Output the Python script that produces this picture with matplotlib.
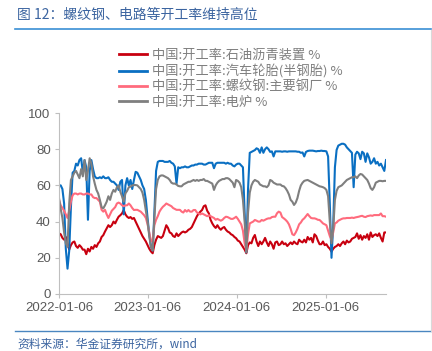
import matplotlib
matplotlib.use("Agg")
import matplotlib.pyplot as plt
from matplotlib.lines import Line2D
import pandas as pd

plt.rcParams['font.family'] = ['Noto Sans CJK SC', 'DejaVu Sans']

start_date = '2022-01-06'
n_weeks = 193

label_asphalt = '中国:开工率:石油沥青装置 %'
label_tire = '中国:开工率:汽车轮胎(半钢胎) %'
label_rebar = '中国:开工率:螺纹钢:主要钢厂 %'
label_eaf = '中国:开工率:电炉 %'

asphalt = [
    33.5, 33, 31, 30, 31.5, 28, 24.5, 27, 28.5, 29,
    26.5, 25.5, 27, 26, 24.5, 24.5, 22, 25, 23.5, 26,
    25, 27, 26, 28, 29, 31.5, 32.5, 34.5, 36.3, 38,
    37, 38, 40, 39, 41, 42.7, 43.5, 44.5, 46.4, 44,
    42.7, 42, 42.5, 41.5, 42, 40, 38, 36, 34, 32,
    30.5, 29, 27, 25, 23.5, 22.5, 27, 30, 32, 31.5,
    31, 32, 35, 38, 36.5, 34, 33.5, 32, 31.5, 33.5,
    32, 33, 34, 34.5, 34, 34.5, 35.5, 36, 37, 39,
    41, 43, 44.5, 45.5, 46.4, 48.5, 49, 46, 44.5, 41,
    39, 37.5, 36.5, 38, 36.5, 35.5, 36.5, 37, 35.5, 34.5,
    34, 33, 32.5, 31.5, 30.8, 29.5, 29, 27.5, 26, 24.5,
    22.5, 27, 28.5, 28, 31, 32.6, 29, 26.5, 29, 27.5,
    29, 31, 28.5, 26.5, 29, 27.5, 25, 28.5, 29, 27,
    27.5, 29, 27.5, 28, 26.5, 27.5, 28.5, 27.5, 29, 28,
    27.5, 30, 29, 28.5, 30, 28.5, 31.5, 30, 31, 28.5,
    33, 32, 29.5, 27.5, 27.5, 29, 27, 27.5, 26, 25,
    23.4, 25, 26, 26.5, 27.5, 26.5, 28, 29, 27.5, 29.5,
    28.5, 29, 30.5, 31, 31.5, 33.5, 30.5, 32.5, 30, 32,
    31, 33, 30, 34, 31.5, 32.5, 33, 32, 33.5, 31,
    29, 34, 34,
]

tire = [
    60, 60, 58, 50, 25, 14, 24, 48, 67, 68,
    72, 71, 74, 75, 67, 74, 70, 41, 68, 74,
    69, 65, 64, 64, 64.5, 64, 65, 64, 64, 64.5,
    63, 62, 62, 61, 60, 57.5, 62, 63, 44, 60,
    64, 60, 63, 58, 63, 67.5, 67, 65, 63, 60,
    58, 52, 42, 33, 26, 24, 45, 68, 73, 73.5,
    73.5, 73.5, 73, 73, 73, 73.5, 72.5, 72, 70.5, 61,
    70, 69.5, 70, 70, 70.5, 70, 70, 70.5, 71, 71,
    71.5, 71.5, 72, 72, 72, 71.5, 71.5, 72, 72.5, 72.5,
    72.5, 69.5, 72, 72.5, 72.5, 72.5, 72.5, 72.5, 72, 72.5,
    72, 72, 71, 70.5, 71.5, 72, 72, 71, 70, 45,
    23, 58, 78, 78.5, 79, 79.5, 80.5, 80, 78, 81,
    78, 80, 81, 80, 78.5, 78.8, 76, 78.8, 78.8, 78.8,
    78.8, 78.6, 78.8, 78.8, 78.6, 78.8, 78.8, 78.8, 78.8, 78.8,
    78.6, 78.6, 78, 78.2, 76, 78.5, 79, 79.2, 79.2, 79.2,
    79, 78.8, 79, 79, 79.2, 79, 79, 78.8, 76, 50,
    20, 38, 70, 79.6, 82, 82.5, 83, 83, 82.5, 81,
    80, 79, 78, 59, 77, 78.6, 77.7, 74.5, 78.6, 77.7,
    73, 77.7, 75.5, 72, 73, 75, 72, 73, 71, 72,
    70, 68, 74,
]

rebar = [
    52, 49, 47.5, 46, 44, 42, 46, 51, 54.5, 55.5,
    55.5, 55, 55.5, 55.5, 55, 55, 55.5, 55.5, 55, 55,
    53.5, 53, 53, 52, 51, 46.5, 45.5, 46.5, 44, 42,
    44, 46, 47, 48, 50, 50.5, 50, 49, 48.5, 49,
    49, 50, 49, 47.5, 46.4, 46.5, 46.5, 46, 45.5, 44.5,
    43.5, 42, 38.5, 34, 29, 30, 38, 41, 43, 45.5,
    47, 48.2, 49, 50, 49.5, 49, 48.5, 47.5, 47, 46.5,
    46.5, 46.5, 45.5, 45, 46.4, 45.5, 46.4, 45.5, 45.5, 46.4,
    46.4, 45, 44.5, 44, 44.5, 44, 43.5, 43, 43.5, 43,
    42.5, 42, 41, 41.5, 41, 40.5, 41, 42, 42.7, 42.5,
    42, 41.5, 41.5, 42, 42.7, 41.5, 40, 38.5, 35, 28,
    24, 33, 39, 39.5, 40, 40.9, 40.5, 40, 40, 40.9,
    40.5, 41, 41.5, 41.8, 41.8, 42.5, 42.7, 42.7, 44.6, 45.5,
    45, 42.5, 41.8, 41, 40, 38.5, 36, 33, 32.5, 34,
    36, 38.5, 39.5, 41, 41.8, 43, 44.2, 43, 42, 41.8,
    41.8, 41.5, 41, 40.9, 40, 39, 38.5, 38, 35, 32,
    30, 34, 39, 39.5, 40.5, 41, 41.5, 41.8, 41.8, 42,
    42, 42, 42.2, 42, 42.3, 42.5, 42.7, 43, 43.2, 42.7,
    42.5, 43, 43.2, 43.4, 43.2, 43.6, 43.6, 43.6, 43.6, 44.5,
    43, 43, 42.7,
]

eaf = [
    53, 47, 42, 34, 28, 26, 50, 63, 65, 67,
    68, 66, 64, 69, 65, 74, 63, 68, 75, 72,
    65, 61, 57.5, 55.5, 52, 48, 47.3, 49, 51, 54,
    52, 55.5, 57.5, 56.5, 59, 60, 56.5, 54, 51, 55.6,
    57, 59, 59.3, 60, 60.2, 60.2, 60, 59, 58, 56,
    52, 46, 40, 32, 26, 24, 42, 58, 63, 65,
    65.5, 65.5, 65, 64.5, 64, 63, 61.5, 61, 61, 60.5,
    59.7, 59.5, 59.5, 60.5, 61, 61.5, 62, 62, 62.5, 63,
    62.5, 63, 62.5, 63, 63, 63.5, 62.5, 62.5, 62, 61.5,
    61, 57.5, 60, 61.5, 62.5, 63, 63.5, 63.5, 64, 64,
    63.5, 62.5, 61.5, 59, 63, 62.5, 61.5, 59, 52, 40,
    23, 45, 56, 60, 62, 63, 62.5, 62, 60.5, 60,
    59.5, 59.5, 59, 60, 63, 62.5, 61.5, 61, 60.5, 60.5,
    60.5, 59.7, 59.5, 58.5, 57, 55, 52, 51, 49.2, 50.5,
    53, 57, 60, 61.5, 62.5, 62.8, 63, 62.5, 62, 61.5,
    61, 60.5, 60, 59.5, 59.3, 59, 58.5, 57.5, 54, 40,
    28, 36, 52, 57, 59, 59.5, 60, 61, 62, 63,
    63.5, 64, 64.5, 64.5, 65, 64, 65.5, 66.3, 66, 65,
    64, 63, 61, 58.5, 57.5, 59, 61.5, 62, 62.5, 62.5,
    62.3, 62.5, 62.5,
]

tick_labels = ['2022-01-06', '2023-01-06', '2024-01-06', '2025-01-06']
y_ticks = [0, 20, 40, 60, 80, 100]

dates = pd.date_range(start_date, periods=n_weeks, freq='7D')

W, H = 432, 351
fig = plt.figure(figsize=(W / 100, H / 100), dpi=100)
ax = fig.add_axes([59 / W, 1 - 294 / H, (386 - 59) / W, (294 - 113) / H])

c_red = '#c8000f'
c_blue = '#0a6fc2'
c_pink = '#ff6b7d'
c_gray = '#7f7f7f'

lw = 1.5
ax.plot(dates, asphalt, color=c_red, lw=lw)
ax.plot(dates, tire, color=c_blue, lw=lw)
ax.plot(dates, rebar, color=c_pink, lw=lw)
ax.plot(dates, eaf, color=c_gray, lw=lw)

ax.set_xlim(dates[0], dates[-1])
ax.set_ylim(0, 100)
ax.set_yticks(y_ticks)
ax.set_xticks(pd.to_datetime(tick_labels))
ax.set_xticklabels(tick_labels)
for s in ['top', 'right']:
    ax.spines[s].set_visible(False)
for s in ['left', 'bottom']:
    ax.spines[s].set_color('#bfbfbf')
    ax.spines[s].set_linewidth(0.8)
ax.tick_params(axis='both', direction='out', length=3, width=0.8, color='#bfbfbf',
               labelcolor='#595959', labelsize=9.5, pad=3)
for t in ax.get_xticklabels() + ax.get_yticklabels():
    t.set_family(['Liberation Sans', 'DejaVu Sans'])

leg_handles = [Line2D([], [], color=c, lw=2) for c in [c_red, c_blue, c_pink, c_gray]]
leg = fig.legend(leg_handles, [label_asphalt, label_tire, label_rebar, label_eaf],
                 loc='upper left', bbox_to_anchor=(119 / W, 1 - 49 / H),
                 frameon=False, fontsize=9.5, handlelength=2.1, handletextpad=0.4,
                 labelspacing=0.16, borderpad=0, borderaxespad=0)
for t in leg.get_texts():
    t.set_color('#7f7f7f')

fig.text(17 / W, 1 - 15 / H, '图 12：螺纹钢、电路等开工率维持高位', fontsize=10,
         color='#3b64a0', va='center', ha='left')
fig.add_artist(Line2D([15 / W, 431 / W], [1 - 29 / H, 1 - 29 / H], transform=fig.transFigure,
                      color='#3a8fd4', lw=1.2))
fig.add_artist(Line2D([15 / W, 431 / W], [1 - 331 / H, 1 - 331 / H], transform=fig.transFigure,
                      color='#4a86c0', lw=1.0))
fig.add_artist(Line2D([431 / W, 431 / W], [1 - 30 / H, 1 - 331 / H], transform=fig.transFigure,
                      color='#d9d9d9', lw=0.8))
fig.text(17 / W, 1 - 344 / H, '资料来源：华金证券研究所，wind', fontsize=8.5,
         color='#3b64a0', va='center', ha='left', style='italic')

fig.savefig('out.png', dpi=100)
